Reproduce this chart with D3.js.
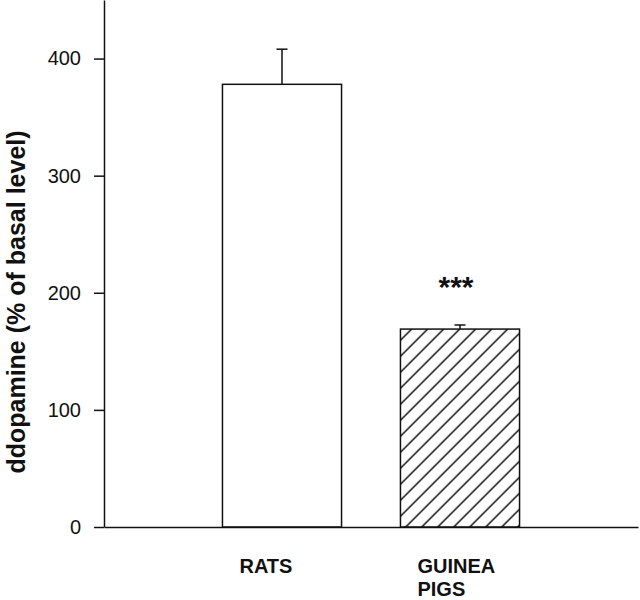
<!DOCTYPE html>
<html>
<head>
<meta charset="utf-8">
<script src="https://cdn.jsdelivr.net/npm/d3@7"></script>
<style>
  html, body { margin: 0; padding: 0; background: #fff; }
  svg { display: block; font-family: "Liberation Sans", Arial, Helvetica, sans-serif; }
</style>
</head>
<body>
<svg id="chart" width="640" height="600"></svg>
<script>
// ---- data ----
const categories = ["RATS", "GUINEA PIGS"];
const labelLines = [["RATS"], ["GUINEA", "PIGS"]];
const means = [378, 169];
const sems = [30, 3.5];
const significance = ["", "***"];
const fills = ["plain", "hatch"];
const yTicks = [0, 100, 200, 300, 400];
const yLabel = "ddopamine (% of basal level)";

// ---- layout ----
const svg = d3.select("#chart");
const x = d3.scaleBand().domain(categories).range([104, 638]).paddingInner(0.331).paddingOuter(0.6655);
const y = d3.scaleLinear().domain([0, 450]).range([527, 0]);
const ink = "#111";

// hatch pattern
const defs = svg.append("defs");
const pat = defs.append("pattern")
  .attr("id", "hatch").attr("patternUnits", "userSpaceOnUse")
  .attr("x", 4.7).attr("y", 0).attr("width", 16).attr("height", 16);
pat.append("rect").attr("width", 16).attr("height", 16).attr("fill", "#fff");
pat.append("path").attr("d", "M-4,4 L4,-4 M0,16 L16,0 M12,20 L20,12")
  .attr("stroke", ink).attr("stroke-width", 1.5);

// bars
const data = categories.map((c, i) => ({ c, m: means[i], e: sems[i], s: significance[i], f: fills[i], lines: labelLines[i] }));

svg.selectAll("rect.bar").data(data).join("rect")
  .attr("class", "bar")
  .attr("x", d => x(d.c))
  .attr("y", d => y(d.m))
  .attr("width", x.bandwidth())
  .attr("height", d => y(0) - y(d.m))
  .attr("fill", d => d.f === "hatch" ? "url(#hatch)" : "#fff")
  .attr("stroke", ink).attr("stroke-width", 1.5);

// error bars (upper only)
const capW = 11;
const eb = svg.selectAll("g.err").data(data).join("g").attr("class", "err")
  .attr("stroke", ink).attr("stroke-width", 1.5);
eb.append("line")
  .attr("x1", d => x(d.c) + x.bandwidth() / 2).attr("x2", d => x(d.c) + x.bandwidth() / 2)
  .attr("y1", d => y(d.m)).attr("y2", d => y(d.m + d.e));
eb.append("line")
  .attr("x1", d => x(d.c) + x.bandwidth() / 2 - capW / 2).attr("x2", d => x(d.c) + x.bandwidth() / 2 + capW / 2)
  .attr("y1", d => y(d.m + d.e)).attr("y2", d => y(d.m + d.e));

// significance stars
svg.selectAll("text.sig").data(data.filter(d => d.s)).join("text")
  .attr("class", "sig")
  .attr("x", d => x(d.c) + x.bandwidth() / 2 - 4)
  .attr("y", d => y(d.m + d.e) - 28)
  .attr("text-anchor", "middle")
  .attr("font-size", 30).attr("font-weight", "bold").attr("fill", ink)
  .text(d => d.s);

// y axis
const yAxis = svg.append("g").attr("transform", "translate(104,0)")
  .call(d3.axisLeft(y).tickValues(yTicks).tickSize(10).tickSizeOuter(0).tickPadding(13));
yAxis.selectAll("path,line").attr("stroke", ink).attr("stroke-width", 1.5);
yAxis.selectAll("text").attr("font-size", 20).attr("fill", ink)
  .attr("font-family", "'Liberation Sans', Arial, sans-serif");

// x axis (baseline only)
const xAxis = svg.append("g").attr("transform", `translate(0,${y(0)})`)
  .call(d3.axisBottom(x).tickSize(0).tickSizeOuter(0).tickFormat(""));
xAxis.select("path").attr("stroke", ink).attr("stroke-width", 1.5);

// category labels
const lab = svg.selectAll("text.cat").data(data).join("text")
  .attr("class", "cat")
  .attr("font-size", 20).attr("font-weight", "bold").attr("fill", ink)
  .attr("text-anchor", "start");
lab.selectAll("tspan").data(d => d.lines.map(t => ({ t, d }))).join("tspan")
  .attr("x", (o) => x(o.d.c) + 17)
  .attr("y", (o, i) => 573 + i * 23)
  .text(o => o.t);

// y label
svg.append("text")
  .attr("transform", "translate(25,302) rotate(-90)")
  .attr("text-anchor", "middle")
  .attr("font-size", 25).attr("font-weight", "bold").attr("fill", ink)
  .text(yLabel);
</script>
</body>
</html>
